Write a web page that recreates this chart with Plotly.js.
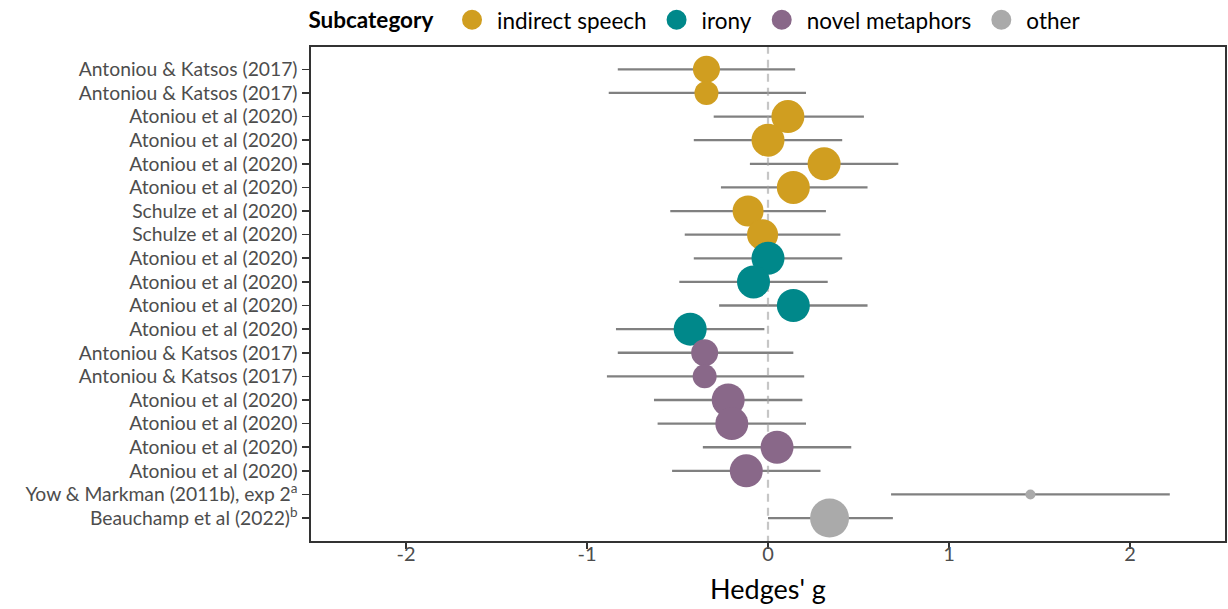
<!DOCTYPE html>
<html>
<head>
<meta charset="utf-8">
<script src="https://cdn.plot.ly/plotly-3.0.1.min.js"></script>
<style>html,body{margin:0;padding:0;background:#fff;}#chart{width:1228px;height:609px;}</style>
</head>
<body>
<div id="chart"></div>
<script>
// ---- data (rows top to bottom) ----
const studies = [
  "Antoniou & Katsos (2017)", "Antoniou & Katsos (2017)",
  "Atoniou et al (2020)", "Atoniou et al (2020)", "Atoniou et al (2020)", "Atoniou et al (2020)",
  "Schulze et al (2020)", "Schulze et al (2020)",
  "Atoniou et al (2020)", "Atoniou et al (2020)", "Atoniou et al (2020)", "Atoniou et al (2020)",
  "Antoniou & Katsos (2017)", "Antoniou & Katsos (2017)",
  "Atoniou et al (2020)", "Atoniou et al (2020)", "Atoniou et al (2020)", "Atoniou et al (2020)",
  "Yow & Markman (2011b), exp 2<sup>a</sup>", "Beauchamp et al (2022)<sup>b</sup>"
];
const subcategory = [
  "indirect speech", "indirect speech", "indirect speech", "indirect speech", "indirect speech",
  "indirect speech", "indirect speech", "indirect speech",
  "irony", "irony", "irony", "irony",
  "novel metaphors", "novel metaphors", "novel metaphors", "novel metaphors", "novel metaphors", "novel metaphors",
  "other", "other"
];
const hedgesG = [-0.34, -0.34, 0.11, 0.00, 0.31, 0.14, -0.11, -0.03,
                 0.00, -0.08, 0.14, -0.43,
                 -0.35, -0.35, -0.22, -0.20, 0.05, -0.12,
                 1.45, 0.34];
const ciLower = [-0.83, -0.88, -0.30, -0.41, -0.10, -0.26, -0.54, -0.46,
                 -0.41, -0.49, -0.27, -0.84,
                 -0.83, -0.89, -0.63, -0.61, -0.36, -0.53,
                 0.68, 0.00];
const ciUpper = [0.15, 0.21, 0.53, 0.41, 0.72, 0.55, 0.32, 0.40,
                 0.41, 0.33, 0.55, -0.02,
                 0.14, 0.20, 0.19, 0.21, 0.46, 0.29,
                 2.22, 0.69];
const weight = [27, 24, 33, 33, 33, 33, 31, 31,
                33, 33, 33, 33,
                27, 24, 33, 33, 33, 33,
                10, 39];
const categories = ["indirect speech", "irony", "novel metaphors", "other"];
const catColors = ["#D09E20", "#00888A", "#896889", "#AAAAAA"];
const xTicks = [-2, -1, 0, 1, 2];

// ---- build traces ----
const rowPos = studies.map((_, i) => i + 1);
const FONT = "Lato, 'Open Sans', sans-serif";

const traces = [];
// error bars (drawn first, under all points)
traces.push({
  type: "scatter", mode: "markers", x: hedgesG, y: rowPos,
  marker: {size: 1, opacity: 0},
  error_x: {type: "data", symmetric: false,
    array: hedgesG.map((g, i) => ciUpper[i] - g),
    arrayminus: hedgesG.map((g, i) => g - ciLower[i]),
    color: "#808080", thickness: 2.3, width: 0},
  showlegend: false, hoverinfo: "skip"
});
// zero reference line
traces.push({
  type: "scatter", mode: "lines", x: [0, 0], y: [0, 21.5],
  line: {color: "rgba(160,160,160,0.6)", width: 2.2, dash: "8px,6px"},
  showlegend: false, hoverinfo: "skip"
});
// points per category
categories.forEach((cat, c) => {
  const idx = subcategory.map((s, i) => s === cat ? i : -1).filter(i => i >= 0);
  traces.push({
    type: "scatter", mode: "markers", name: cat,
    x: idx.map(i => hedgesG[i]), y: idx.map(i => rowPos[i]),
    marker: {color: catColors[c], size: idx.map(i => weight[i]), opacity: 1, line: {width: 0}},
    showlegend: false
  });
  // legend entry
  traces.push({
    type: "scatter", mode: "markers", name: cat, x: [null], y: [null],
    marker: {color: catColors[c], size: 16, line: {width: 4, color: catColors[c]}},
    showlegend: true
  });
});

const layout = {
  width: 1228, height: 609,
  margin: {l: 311, r: 3, t: 47, b: 68},
  paper_bgcolor: "#ffffff", plot_bgcolor: "#ffffff",
  font: {family: FONT, color: "#4D4D4D", size: 19},
  showlegend: true,
  legend: {
    orientation: "h", xref: "container", yref: "container",
    x: 0.2495, xanchor: "left", y: 0.967, yanchor: "middle",
    title: {text: "<b>Subcategory</b>&nbsp;", font: {size: 22.5, color: "#000000", family: FONT}, side: "left"},
    font: {size: 22.5, color: "#000000", family: FONT},
    itemsizing: "trace", itemclick: false, traceorder: "normal", itemwidth: 40
  },
  xaxis: {
    range: [-2.525, 2.525], tickvals: xTicks, ticktext: xTicks.map(String),
    showgrid: false, zeroline: false,
    showline: true, mirror: true, linecolor: "#333333", linewidth: 1.6,
    ticks: "outside", ticklen: 6, tickwidth: 1.6, tickcolor: "#333333",
    ticklabelstandoff: -12,
    tickfont: {size: 20, color: "#4D4D4D", family: FONT},
    title: {text: "Hedges' g", font: {size: 27, color: "#000000", family: FONT}, standoff: 16}
  },
  yaxis: {
    range: [20.97, 0.055], tickvals: rowPos, ticktext: studies,
    showgrid: false, zeroline: false,
    showline: true, mirror: true, linecolor: "#333333", linewidth: 1.6,
    ticks: "outside", ticklen: 7, tickwidth: 1.6, tickcolor: "#333333",
    ticklabelstandoff: 1,
    tickfont: {size: 19.3, color: "#4D4D4D", family: FONT}
  }
};

Plotly.newPlot("chart", traces, layout, {displayModeBar: false, staticPlot: true});
</script>
</body>
</html>
